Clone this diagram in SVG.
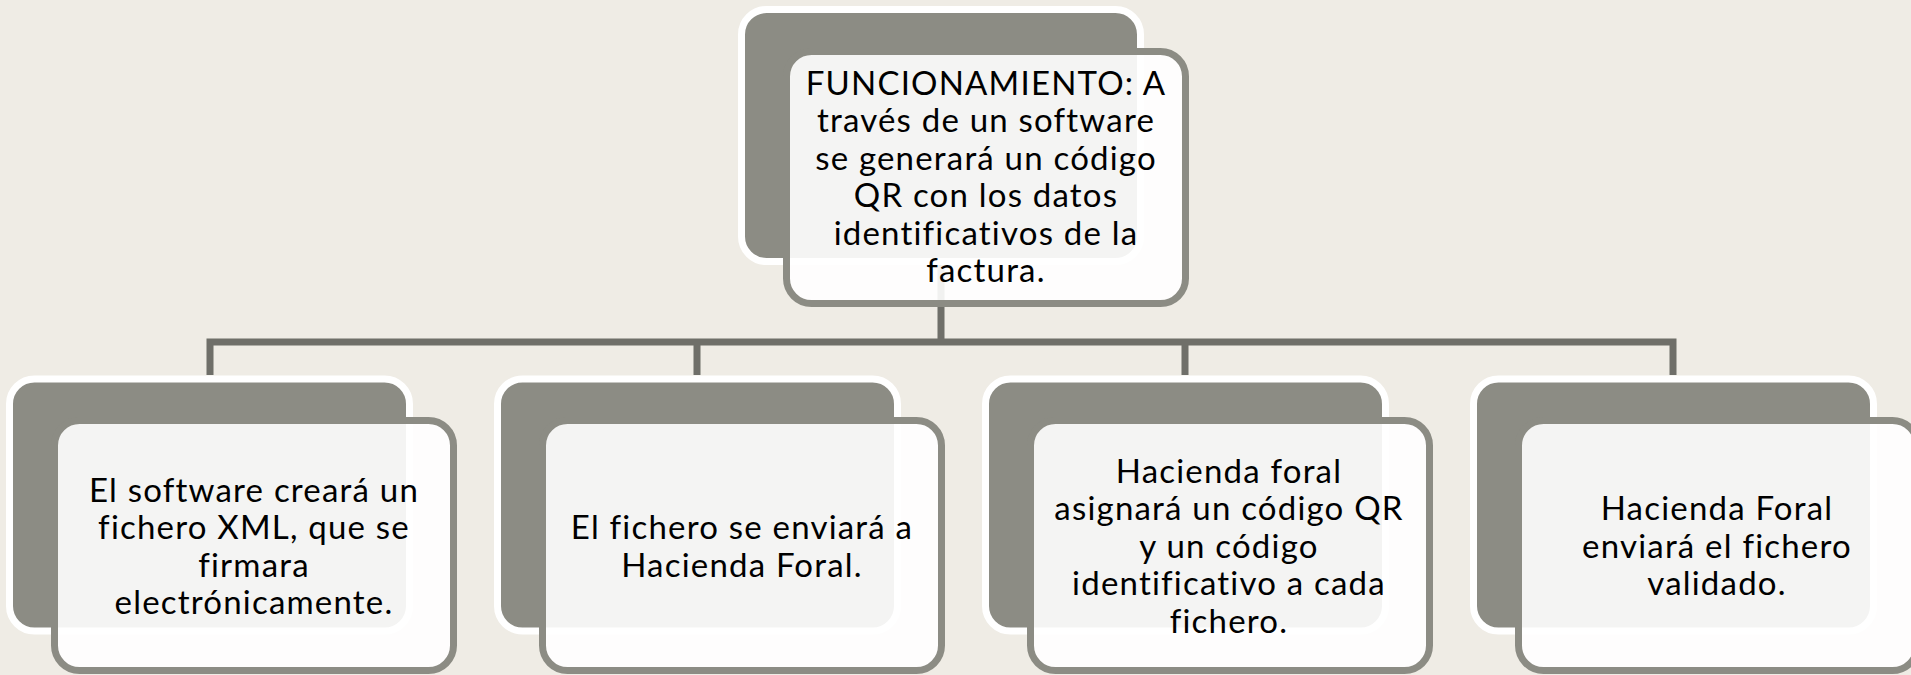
<svg xmlns="http://www.w3.org/2000/svg" width="1911" height="675" viewBox="0 0 1911 675">
<style>
.back{fill:#8c8c84;stroke:#ffffff;stroke-width:7}
.front{fill:#ffffff;fill-opacity:0.9;stroke:#8c8c84;stroke-width:7}
.conn{fill:none;stroke:#6f6f69;stroke-width:7;stroke-linejoin:miter}
.t{font-family:Lato,"Open Sans","Liberation Sans",sans-serif;font-size:33px;font-weight:400;letter-spacing:1.2px;font-variant-ligatures:none;fill:#000000;text-anchor:middle}
</style>
<rect x="0" y="0" width="1911" height="675" fill="#efece5"/>
<g id="connectors">
<path class="conn" d="M941,258 V342 M210,375 V342 H1673 V375 M697,342 V375 M1185,342 V375"/>
</g>
<g id="node-top">
<rect class="back" x="741.5" y="9.5" width="399" height="252" rx="25"/>
<rect class="front" x="786.5" y="51.5" width="399" height="252" rx="25"/>
<text class="t" x="986" y="95">FUNCIONAMIENTO: A</text>
<text class="t" x="986" y="132">través de un software</text>
<text class="t" x="986" y="170">se generará un código</text>
<text class="t" x="986" y="207">QR con los datos</text>
<text class="t" x="986" y="245">identificativos de la</text>
<text class="t" x="986" y="282">factura.</text>
</g>
<g id="node-1">
<rect class="back" x="9.5" y="379" width="400" height="252" rx="25"/>
<rect class="front" x="54.5" y="420.5" width="399" height="250" rx="25"/>
<text class="t" x="254" y="502">El software creará un</text>
<text class="t" x="254" y="539">fichero XML, que se</text>
<text class="t" x="254" y="577">firmara</text>
<text class="t" x="254" y="614">electrónicamente.</text>
</g>
<g id="node-2">
<rect class="back" x="497.5" y="379" width="400" height="252" rx="25"/>
<rect class="front" x="542.5" y="420.5" width="399" height="250" rx="25"/>
<text class="t" x="742" y="539">El fichero se enviará a</text>
<text class="t" x="742" y="577">Hacienda Foral.</text>
</g>
<g id="node-3">
<rect class="back" x="985.5" y="379" width="400" height="252" rx="25"/>
<rect class="front" x="1030.5" y="420.5" width="399" height="250" rx="25"/>
<text class="t" x="1229" y="483">Hacienda foral</text>
<text class="t" x="1229" y="520">asignará un código QR</text>
<text class="t" x="1229" y="558">y un código</text>
<text class="t" x="1229" y="595">identificativo a cada</text>
<text class="t" x="1229" y="633">fichero.</text>
</g>
<g id="node-4">
<rect class="back" x="1473.5" y="379" width="400" height="252" rx="25"/>
<rect class="front" x="1518.5" y="420.5" width="399" height="250" rx="25"/>
<text class="t" x="1717" y="520">Hacienda Foral</text>
<text class="t" x="1717" y="558">enviará el fichero</text>
<text class="t" x="1717" y="595">validado.</text>
</g>
</svg>
